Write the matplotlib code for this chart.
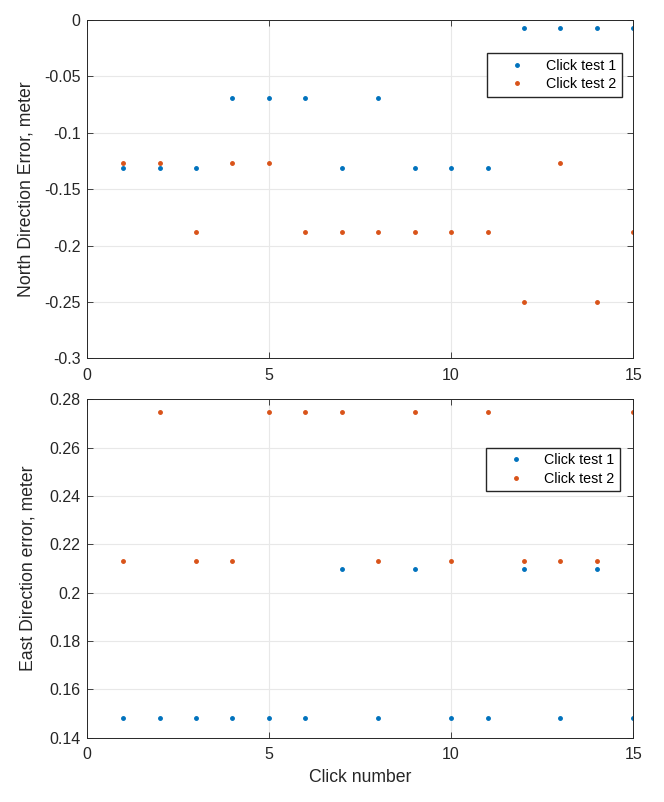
import numpy as np
import matplotlib.pyplot as plt

plt.rcParams['font.family'] = ['Liberation Sans', 'DejaVu Sans']

# data
clicks = np.arange(1, 16)
north_test1 = [-0.131, -0.131, -0.131, -0.069, -0.069, -0.069, -0.131, -0.069,
               -0.131, -0.131, -0.131, -0.007, -0.007, -0.007, -0.007]
north_test2 = [-0.127, -0.127, -0.188, -0.127, -0.127, -0.188, -0.188, -0.188,
               -0.188, -0.188, -0.188, -0.250, -0.127, -0.250, -0.188]
east_test1 = [0.148, 0.148, 0.148, 0.148, 0.148, 0.148, 0.210, 0.148,
              0.210, 0.148, 0.148, 0.210, 0.148, 0.210, 0.148]
east_test2 = [0.213, 0.275, 0.213, 0.213, 0.275, 0.275, 0.275, 0.213,
              0.275, 0.213, 0.275, 0.213, 0.213, 0.213, 0.275]
labels = ['Click test 1', 'Click test 2']

blue = '#0072BD'
orange = '#D95319'
dark = '#262626'

fig = plt.figure(figsize=(6.64, 8.02), dpi=100)
ax1 = fig.add_axes([0.1306, 0.5530, 0.8232, 0.4221])
ax2 = fig.add_axes([0.1306, 0.0802, 0.8232, 0.4217])


def style(ax, yticks, ylim):
    ax.set_xlim(0, 15)
    ax.set_ylim(*ylim)
    ax.set_xticks([0, 5, 10, 15])
    ax.set_yticks(yticks)
    ax.grid(True, color='#e8e8e8', linewidth=0.8)
    ax.set_axisbelow(True)
    ax.tick_params(direction='in', top=True, right=True, length=4,
                   labelsize=11.5, colors=dark, width=0.6)
    ax.tick_params(axis='x', pad=7)
    ax.tick_params(axis='y', pad=4.5)
    for s in ax.spines.values():
        s.set_color(dark)
        s.set_linewidth(0.7)


def add_legend(ax, anchor):
    ax.legend(loc='upper right', bbox_to_anchor=anchor, fancybox=False,
              edgecolor=dark, fontsize=10.3, handletextpad=0.3,
              handlelength=3.4, labelspacing=0.3, borderpad=0.4,
              borderaxespad=0, framealpha=1)


ax1.plot(clicks, north_test1, '.', color=blue, markersize=5, label=labels[0])
ax1.plot(clicks, north_test2, '.', color=orange, markersize=5, label=labels[1])
style(ax1, [-0.3, -0.25, -0.2, -0.15, -0.1, -0.05, 0], (-0.3, 0))
ax1.set_yticklabels(['-0.3', '-0.25', '-0.2', '-0.15', '-0.1', '-0.05', '0'])
ax1.set_ylabel('North Direction Error, meter', fontsize=12.7, color=dark,
               labelpad=7)
add_legend(ax1, (0.9788, 0.9016))

ax2.plot(clicks, east_test1, '.', color=blue, markersize=5, label=labels[0])
ax2.plot(clicks, east_test2, '.', color=orange, markersize=5, label=labels[1])
style(ax2, np.arange(0.14, 0.2801, 0.02), (0.14, 0.28))
ax2.set_yticklabels(['0.14', '0.16', '0.18', '0.2', '0.22', '0.24', '0.26', '0.28'])
ax2.set_ylabel('East Direction error, meter', fontsize=12.7, color=dark,
               labelpad=9.5)
ax2.set_xlabel('Click number', fontsize=12.7, color=dark, labelpad=5)
add_legend(ax2, (0.9762, 0.8575))

fig.savefig('out.png', dpi=100)
